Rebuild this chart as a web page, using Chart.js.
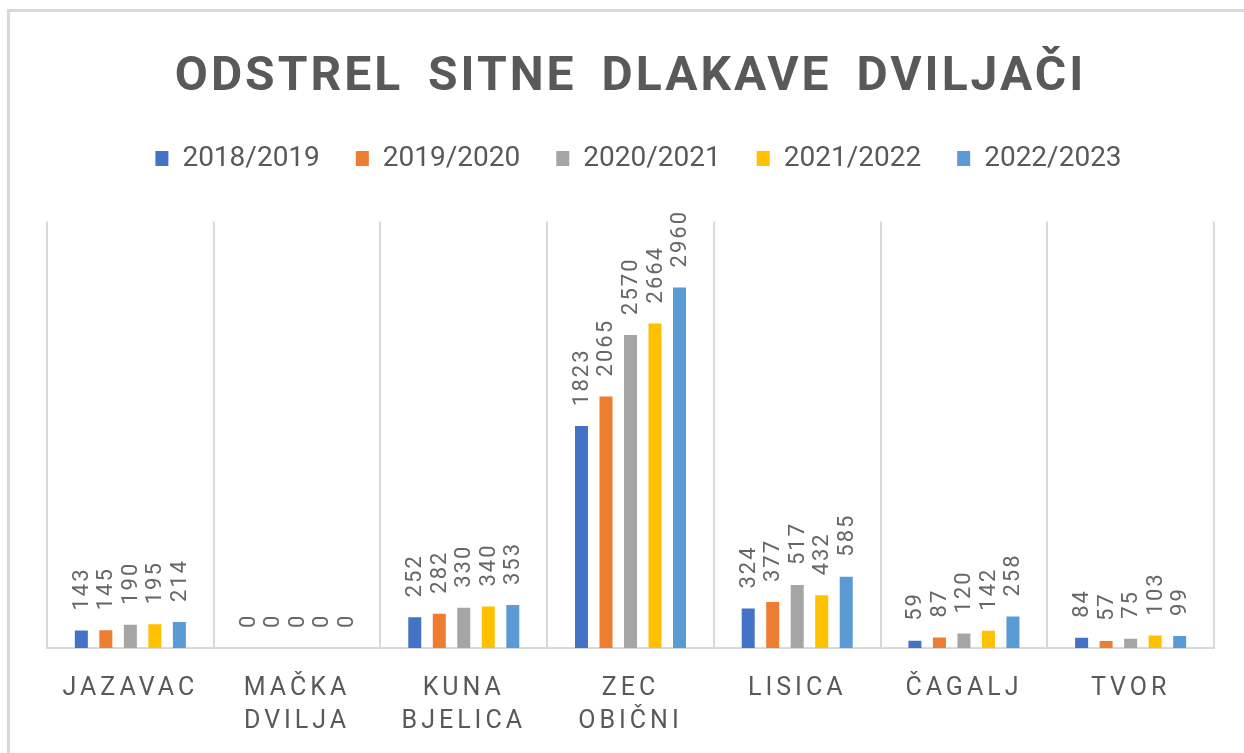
<!DOCTYPE html>
<html>
<head>
<meta charset="utf-8">
<script src="https://cdn.jsdelivr.net/npm/chart.js@4.4.1/dist/chart.umd.min.js"></script>
<style>
  html, body { margin: 0; padding: 0; background: #fff; overflow: hidden; }
  #frame {
    position: absolute; left: 7px; top: 9px; width: 1300px; height: 800px;
    border-top: 3px solid #d9d9d9; border-left: 3px solid #d9d9d9;
  }
  #chart { position: absolute; left: 0; top: 0; }
</style>
</head>
<body>
<div id="frame"></div>
<canvas id="chart" width="1244" height="762"></canvas>
<script>
const categories = [
    "JAZAVAC",
    ["MAČKA", "DVILJA"],
    ["KUNA", "BJELICA"],
    ["ZEC", "OBIČNI"],
    "LISICA",
    "ČAGALJ",
    "TVOR"
];
const seasons = ["2018/2019", "2019/2020", "2020/2021", "2021/2022", "2022/2023"];
const s2018 = [143, 0, 252, 1823, 324, 59, 84];
const s2019 = [145, 0, 282, 2065, 377, 87, 57];
const s2020 = [190, 0, 330, 2570, 517, 120, 75];
const s2021 = [195, 0, 340, 2664, 432, 142, 103];
const s2022 = [214, 0, 353, 2960, 585, 258, 99];
const colors = ["#4472C4", "#ED7D31", "#A5A5A5", "#FFC000", "#5B9BD5"];

const textGrey = "#595959";

// title/ticks need letter spacing, legend gets extra room below
const spacedText = {
    id: 'spacedText',
    afterInit(chart) {
        const legend = chart.legend;
        const legendFit = legend.fit;
        legend.fit = function () {
            legendFit.call(this);
            this.height += 39;
        };
        const legendDraw = legend.draw;
        legend.draw = function (area) {
            chart.ctx.save();
            chart.ctx.translate(8, 0);
            legendDraw.call(this, area);
            chart.ctx.restore();
        };
        const titleDraw = chart.titleBlock.draw;
        chart.titleBlock.draw = function (area) {
            chart.ctx.save();
            chart.ctx.letterSpacing = '3px';
            chart.ctx.wordSpacing = '10px';
            titleDraw.call(this, area);
            chart.ctx.restore();
        };
    },
    afterDatasetsDraw(chart) {
        const ctx = chart.ctx;
        ctx.save();
        ctx.letterSpacing = '2px';
        ctx.font = "22px Roboto";
        ctx.fillStyle = "#666666";
        ctx.textAlign = "left";
        ctx.textBaseline = "middle";
        chart.data.datasets.forEach((ds, i) => {
            chart.getDatasetMeta(i).data.forEach((bar, j) => {
                ctx.save();
                ctx.translate(bar.x + 1, bar.y - 20);
                ctx.rotate(-Math.PI / 2);
                ctx.fillText(String(ds.data[j]), 0, 0);
                ctx.restore();
            });
        });
        ctx.restore();
        ctx.letterSpacing = '4px';
    },
    afterDraw(chart) {
        chart.ctx.letterSpacing = '0px';
    }
};

new Chart(document.getElementById("chart"), {
    type: 'bar',
    data: {
        labels: categories,
        datasets: [
            { label: seasons[0], data: s2018, backgroundColor: colors[0] },
            { label: seasons[1], data: s2019, backgroundColor: colors[1] },
            { label: seasons[2], data: s2020, backgroundColor: colors[2] },
            { label: seasons[3], data: s2021, backgroundColor: colors[3] },
            { label: seasons[4], data: s2022, backgroundColor: colors[4] }
        ]
    },
    options: {
        responsive: false,
        animation: false,
        categoryPercentage: 0.735,
        barPercentage: 0.53,
        layout: {
            padding: { top: 0, left: 47, right: 30, bottom: 0 }
        },
        plugins: {
            title: {
                display: true,
                text: "ODSTREL SITNE DLAKAVE DVILJAČI",
                color: textGrey,
                font: { family: "Roboto", size: 48, weight: 'bold', lineHeight: 1.2 },
                padding: { top: 49, bottom: 2 }
            },
            legend: {
                display: true,
                position: 'top',
                labels: {
                    color: textGrey,
                    font: { family: "Roboto", size: 28 },
                    boxWidth: 13,
                    boxHeight: 15,
                    padding: 36
                }
            },
            tooltip: { enabled: false }
        },
        scales: {
            x: {
                grid: {
                    color: "#d9d9d9",
                    lineWidth: 2,
                    drawTicks: false,
                    offset: true
                },
                border: { color: "#d9d9d9", width: 2 },
                ticks: {
                    color: textGrey,
                    font: { family: "Roboto", size: 25, lineHeight: 1.32 },
                    padding: 24,
                    maxRotation: 0,
                    autoSkip: false,
                    z: 1
                }
            },
            y: {
                display: false,
                min: 0,
                max: 3500
            }
        }
    },
    plugins: [spacedText]
});
</script>
</body>
</html>
